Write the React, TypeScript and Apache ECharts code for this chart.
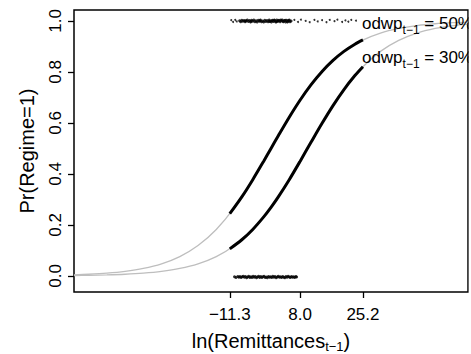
import React, { useEffect, useRef } from "react";
import * as echarts from "echarts";

const FONT = '"Liberation Sans", Arial, Helvetica, sans-serif';

const xTicks = [-11.3, 8.0, 25.2];
const yTicks = [0, 0.2, 0.4, 0.6, 0.8, 1.0];

// full (grey) predicted-probability curves
const curveX = [-54, -50, -45, -40, -35, -30, -25, -20, -15, -10, -5, 0, 5, 10, 15, 20, 25, 30, 35, 40, 45, 50, 54];
const curve50 = [0.0045, 0.0067, 0.011, 0.018, 0.0293, 0.0474, 0.0759, 0.1192, 0.1824, 0.2689, 0.3775, 0.5, 0.6225, 0.7311, 0.8176, 0.8808, 0.9241, 0.9526, 0.9707, 0.982, 0.989, 0.9933, 0.9955];
const curve30 = [0.0017, 0.0025, 0.0041, 0.0067, 0.011, 0.018, 0.0293, 0.0474, 0.0759, 0.1192, 0.1824, 0.2689, 0.3775, 0.5, 0.6225, 0.7311, 0.8176, 0.8808, 0.9241, 0.9526, 0.9707, 0.982, 0.9879];

// in-sample (black) segments
const segX = [-11.3, -8, -5, -2, 0, 2, 5, 8, 11, 14, 17, 20, 23, 25.2];
const seg50 = [0.2441, 0.31, 0.3775, 0.4502, 0.5, 0.5498, 0.6225, 0.69, 0.7503, 0.8022, 0.8455, 0.8808, 0.9089, 0.9255];
const seg30 = [0.1062, 0.1419, 0.1824, 0.2315, 0.2689, 0.31, 0.3775, 0.4502, 0.525, 0.5987, 0.6682, 0.7311, 0.7858, 0.8206];

// rug of observations (regime = 1 on top, regime = 0 at bottom)
const rugTopDense: [number, number][] = [
  [-8.6, 1.001], [-8.3, 0.997], [-8.0, 1.003], [-7.7, 0.999], [-7.4, 1.002], [-7.1, 0.997], [-6.8, 1.0], [-6.5, 1.004],
  [-6.2, 0.998], [-5.9, 1.002], [-5.6, 0.996], [-5.3, 1.003], [-5.0, 0.999], [-4.7, 1.004], [-4.4, 0.997], [-4.1, 1.001],
  [-3.8, 0.996], [-3.5, 1.003], [-3.2, 0.999], [-2.9, 1.004], [-2.6, 0.997], [-2.3, 1.0], [-2.0, 0.996], [-1.7, 1.003],
  [-1.4, 0.998], [-1.1, 1.002], [-0.8, 0.997], [-0.5, 1.004], [-0.2, 1.0], [0.1, 0.996], [0.4, 1.003], [0.7, 0.998],
  [1.0, 1.002], [1.3, 0.996], [1.6, 1.004], [1.9, 0.999], [2.2, 1.003], [2.5, 0.997], [2.8, 1.001], [3.1, 1.004],
  [3.4, 0.997], [3.7, 1.002], [4.0, 0.996], [4.3, 1.003], [4.6, 0.999], [4.9, 1.002], [5.2, 0.997], [5.5, 1.0],
  [-0.4, 0.998], [0.3, 1.001], [0.9, 1.004], [1.5, 0.997], [2.0, 1.001], [2.7, 1.004], [3.3, 0.999], [3.9, 1.003],
  [4.5, 0.996], [5.0, 1.004], [-3.0, 1.001], [-5.5, 0.999], [-7.0, 1.001],
];
const rugTopSparse: [number, number][] = [
  [-10.9, 1.003], [-10.4, 0.996], [-9.8, 1.004], [-9.4, 0.998],
  [6.4, 1.004], [7.4, 0.996], [8.2, 1.005], [9.5, 1.0], [10.6, 0.995], [11.9, 1.004], [12.8, 0.998], [14.0, 1.003],
  [15.2, 0.995], [16.1, 1.004], [17.4, 0.999], [18.2, 1.005], [19.5, 0.996], [20.4, 1.002], [21.2, 0.997], [22.0, 1.004],
  [23.3, 1.001],
];
const rugBottom: [number, number][] = [
  [-10.0, -0.003], [-9.6, -0.006], [-9.1, -0.002], [-8.8, -0.005], [-8.5, -0.002], [-8.2, -0.006], [-7.9, -0.003], [-7.6, -0.001],
  [-7.3, -0.005], [-7.0, -0.002], [-6.7, -0.007], [-6.4, -0.004], [-6.1, -0.001], [-5.8, -0.006], [-5.5, -0.003], [-5.2, -0.006],
  [-4.9, -0.001], [-4.6, -0.005], [-4.3, -0.002], [-4.0, -0.007], [-3.7, -0.004], [-3.4, -0.001], [-3.1, -0.006], [-2.8, -0.002],
  [-2.5, -0.006], [-2.2, -0.003], [-1.9, -0.001], [-1.6, -0.006], [-1.3, -0.004], [-1.0, -0.007], [-0.7, -0.002], [-0.4, -0.005],
  [-0.1, -0.003], [0.2, -0.006], [0.5, -0.001], [0.8, -0.005], [1.1, -0.002], [1.4, -0.007], [1.7, -0.004], [2.0, -0.001],
  [2.3, -0.005], [2.6, -0.003], [2.9, -0.006], [3.2, -0.002], [3.5, -0.005], [3.8, -0.007], [4.1, -0.002], [4.4, -0.005],
  [4.7, -0.001], [5.0, -0.004], [5.3, -0.006], [5.6, -0.002], [5.9, -0.005], [6.2, -0.003], [6.5, -0.006], [6.8, -0.002],
  [7.0, -0.004],
];

const curveLabels = [
  { value: "50%", x: 25.2, y: 0.99 },
  { value: "30%", x: 25.2, y: 0.855 },
];

const W = 471;
const H = 354;

function measure(text: string, size: number): number {
  const c = document.createElement("canvas");
  const ctx = c.getContext("2d");
  if (!ctx) return text.length * size * 0.55;
  ctx.font = `${size}px ${FONT}`;
  return ctx.measureText(text).width;
}

function txt(text: string, x: number, y: number, size: number) {
  return {
    type: "text",
    z: 50,
    silent: true,
    style: {
      text,
      x,
      y,
      font: `${size}px ${FONT}`,
      fill: "#000",
      align: "left",
      verticalAlign: "middle",
      textAlign: "left",
      textVerticalAlign: "middle",
    },
  };
}

export default function App() {
  const ref = useRef<HTMLDivElement>(null);
  useEffect(() => {
    if (!ref.current) return;
    const chart = echarts.init(ref.current, undefined, { renderer: "svg" });
    const line = (xs: number[], ys: number[], color: string, width: number, z: number) => ({
      type: "line",
      data: xs.map((x, i) => [x, ys[i]]),
      showSymbol: false,
      symbol: "none",
      smooth: 0.3,
      z,
      lineStyle: { color, width },
      silent: true,
    });
    const rug = (data: [number, number][], size: number) => ({
      type: "scatter",
      data,
      symbolSize: size,
      itemStyle: { color: "#000" },
      silent: true,
      z: 4,
    });
    chart.setOption({
      animation: false,
      grid: {
        left: 74,
        right: 3,
        top: 10,
        bottom: 62,
        show: true,
        borderColor: "#000",
        borderWidth: 1.5,
        backgroundColor: "transparent",
      },
      xAxis: {
        type: "value",
        min: -54,
        max: 54,
        axisLine: { show: false, onZero: false },
        splitLine: { show: false },
        axisTick: { show: true, length: 6, lineStyle: { color: "#000", width: 1.3 }, customValues: xTicks },
        axisLabel: {
          customValues: xTicks,
          margin: 14,
          fontSize: 17,
          fontFamily: FONT,
          color: "#000",
          formatter: (v: number) => v.toFixed(1).replace("-", "\u2212"),
        },
      },
      yAxis: {
        type: "value",
        min: -0.063,
        max: 1.043,
        name: "Pr(Regime=1)",
        nameLocation: "middle",
        nameGap: 37,
        nameTextStyle: { fontSize: 20, fontFamily: FONT, color: "#000" },
        axisLine: { show: false, onZero: false },
        splitLine: { show: false },
        axisTick: { show: true, length: 6, lineStyle: { color: "#000", width: 1.3 }, customValues: yTicks },
        axisLabel: {
          customValues: yTicks,
          rotate: 90,
          margin: 10,
          fontSize: 17,
          fontFamily: FONT,
          color: "#000",
          formatter: (v: number) => v.toFixed(1),
        },
      },
      series: [
        line(curveX, curve50, "#bebebe", 1.3, 2),
        line(curveX, curve30, "#bebebe", 1.3, 2),
        line(segX, seg50, "#000", 3, 3),
        line(segX, seg30, "#000", 3, 3),
        rug(rugTopDense, 3),
        rug(rugTopSparse, 2),
        rug(rugBottom, 3),
      ],
    });

    // annotations
    const graphic: any[] = [];
    curveLabels.forEach((l) => {
      const p = chart.convertToPixel({ gridIndex: 0 }, [l.x, l.y]) as number[];
      const x0 = p[0] - 1;
      const yc = p[1];
      const a = "odwp";
      const wa = measure(a, 17);
      graphic.push(txt(a, x0, yc, 17));
      const s = "t\u22121";
      const ws = measure(s, 12);
      graphic.push(txt(s, x0 + wa, yc + 6, 12));
      graphic.push(txt(" = " + l.value, x0 + wa + ws, yc, 17));
    });
    // x-axis title with subscript
    const t1 = "ln(Remittances";
    const t2 = "t\u22121";
    const t3 = ")";
    const w1 = measure(t1, 20);
    const w2 = measure(t2, 13);
    const w3 = measure(t3, 20);
    const cx = (74 + 468) / 2;
    const start = cx - (w1 + w2 + w3) / 2;
    const ty = 341;
    graphic.push(txt(t1, start, ty, 20));
    graphic.push(txt(t2, start + w1, ty + 5, 13));
    graphic.push(txt(t3, start + w1 + w2, ty, 20));
    // right-edge clipping of the figure region
    graphic.push({
      type: "rect",
      z: 100,
      silent: true,
      shape: { x: 468.8, y: 0, width: 10, height: H },
      style: { fill: "#fff" },
    });
    chart.setOption({ graphic });

    return () => chart.dispose();
  }, []);
  return (
    <div
      ref={ref}
      style={{ position: "absolute", left: 0, top: 0, width: W, height: H, background: "#fff" }}
    />
  );
}
